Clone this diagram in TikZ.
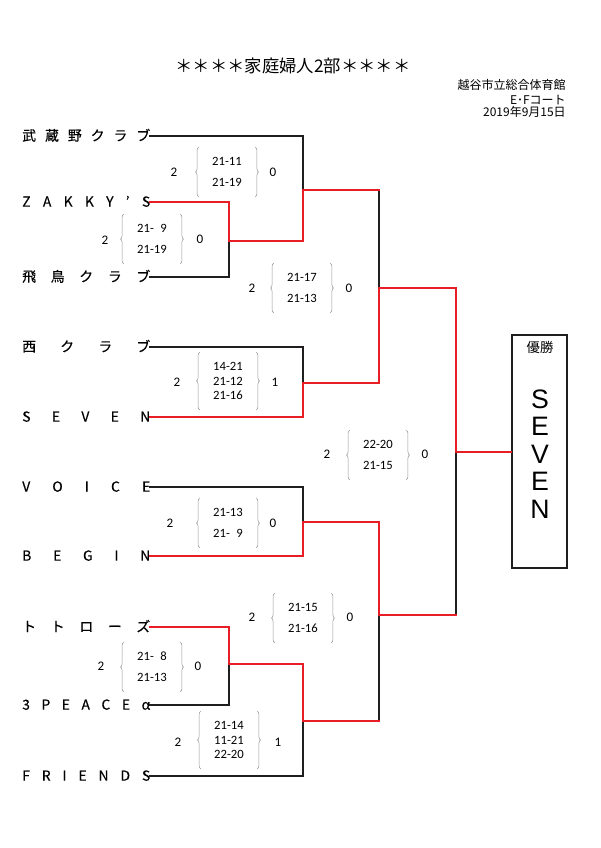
\documentclass[tikz,border=0pt]{standalone}
\usepackage{fontspec}
\setmainfont{Noto Sans CJK JP}
\newfontfamily\teamfont{Noto Sans CJK JP}[FakeBold=0.3]
\newfontfamily\setsfont{Carlito}
\newfontfamily\champfont{Liberation Sans}
\usetikzlibrary{decorations.pathreplacing}
\definecolor{winred}{RGB}{232,30,38}
\definecolor{loseblack}{RGB}{32,30,30}
\definecolor{bracegray}{RGB}{150,150,150}
\tikzset{
  team/.style={anchor=west,inner sep=0pt,text height=8.5pt,text depth=1.5pt,
    font=\teamfont\fontsize{10.4}{12}\selectfont},
  pts/.style={inner sep=0pt,font=\setsfont\fontsize{9.8}{11}\selectfont},
  sets/.style={inner sep=0pt,minimum width=42pt,minimum height=36.75pt,
    align=center,font=\setsfont\fontsize{9.5}{11}\selectfont},
  setsthree/.style={sets,minimum height=42.75pt},
  win/.style={draw=winred,line width=1.7pt,line cap=rect},
  lose/.style={draw=loseblack,line width=1.7pt,line cap=rect},
  setbrace/.style={draw=bracegray,line width=0.4pt,decorate,
    decoration={brace,amplitude=2.5pt}},
}
\newcommand{\spreadname}[1]{\makebox[96pt][s]{#1}}
\begin{document}
\begin{tikzpicture}[x=0.75pt,y=-0.75pt]
  \useasboundingbox (0,0) rectangle (600,848);
  % heading
  \node[font=\fontsize{13}{15}\selectfont] (title) at (293,66) {＊＊＊＊家庭婦人2部＊＊＊＊};
  \node[anchor=east,inner sep=0pt,font=\fontsize{9}{11}\selectfont] (venue) at (566,85) {越谷市立総合体育館};
  \node[anchor=east,inner sep=0pt,font=\fontsize{9}{11}\selectfont] (court) at (566,100) {E･Fコート};
  \node[anchor=east,inner sep=0pt,font=\fontsize{9}{11}\selectfont] (date) at (566,112) {2019年9月15日};
  % teams
  \node[team] (t1) at (22,136) {\spreadname{武\hfil 蔵\hfil 野\hfil ク\hfil ラ\hfil ブ}};
  \node[team] (t2) at (22,202) {\spreadname{Z\hfil A\hfil K\hfil K\hfil Y\hfil ’\hfil S}};
  \node[team] (t3) at (22,277) {\spreadname{飛\hfil 鳥\hfil ク\hfil ラ\hfil ブ}};
  \node[team] (t4) at (22,347) {\spreadname{西\hfil ク\hfil ラ\hfil ブ}};
  \node[team] (t5) at (22,417) {\spreadname{S\hfil E\hfil V\hfil E\hfil N}};
  \node[team] (t6) at (22,487) {\spreadname{V\hfil O\hfil I\hfil C\hfil E}};
  \node[team] (t7) at (22,556) {\spreadname{B\hfil E\hfil G\hfil I\hfil N}};
  \node[team] (t8) at (22,627) {\spreadname{ト\hfil ト\hfil ロ\hfil ー\hfil ズ}};
  \node[team] (t9) at (22,705) {\spreadname{3\hfil P\hfil E\hfil A\hfil C\hfil E\hfil α}};
  \node[team] (t10) at (22,776) {\spreadname{F\hfil R\hfil I\hfil E\hfil N\hfil D\hfil S}};
  % champion
  \node[draw=loseblack,line width=1.5pt,minimum width=41.25pt,minimum height=174.75pt,inner sep=0pt]
    (champ) at (539.5,451.5) {};
  \node[font=\fontsize{10}{12}\selectfont] (champlabel) at (540,347) {優勝};
  \node[align=center,font=\champfont\fontsize{20}{20.6}\selectfont] (champname) at (540,454) {S\\E\\V\\E\\N};
  % junctions
  \coordinate (j1) at (229,241);
  \coordinate (j2) at (303,190);
  \coordinate (j3) at (303,383);
  \coordinate (j4) at (379,288);
  \coordinate (j5) at (303,522);
  \coordinate (j6) at (229,664);
  \coordinate (j7) at (303,721);
  \coordinate (j8) at (379,615);
  \coordinate (j9) at (456,452);
  % bracket lines
  \draw[lose] (t3.east) -| (j1);
  \draw[win] (t2.east) -| (j1);
  \draw[lose] (t1.east) -| (j2);
  \draw[win] (j1) -| (j2);
  \draw[lose] (t4.east) -| (j3);
  \draw[win] (t5.east) -| (j3);
  \draw[lose] (j2 -| j4) -- (j4);
  \draw[win] (j2) -- (j2 -| j4);
  \draw[win] (j3) -| (j4);
  \draw[lose] (t6.east) -| (j5);
  \draw[win] (t7.east) -| (j5);
  \draw[lose] (t9.east) -| (j6);
  \draw[win] (t8.east) -| (j6);
  \draw[lose] (t10.east) -| (j7);
  \draw[win] (j6) -| (j7);
  \draw[lose] (j7 -| j8) -- (j8);
  \draw[win] (j7) -- (j7 -| j8);
  \draw[win] (j5) -| (j8);
  \draw[lose] (j8 -| j9) -- (j9);
  \draw[win] (j8) -- (j8 -| j9);
  \draw[win] (j4) -| (j9);
  \draw[win] (j9) -- (j9 -| champ.west);
  % scores
  \node[pts] (l1) at (174,172) {2};
  \node[sets] (s1) at (227,172) {21-11\\[5pt]21-19};
  \node[pts] (r1) at (273,172) {0};
  \node[pts] (l2) at (105,240) {2};
  \node[sets] (s2) at (152,239) {21-\phantom{1}9\\[5pt]21-19};
  \node[pts] (r2) at (200,239) {0};
  \node[pts] (l3) at (252,288) {2};
  \node[sets] (s3) at (302,288) {21-17\\[5pt]21-13};
  \node[pts] (r3) at (349,288) {0};
  \node[pts] (l4) at (177,382) {2};
  \node[setsthree] (s4) at (228,381) {14-21\\21-12\\21-16};
  \node[pts] (r4) at (275,382) {1};
  \node[pts] (l5) at (327,454) {2};
  \node[sets] (s5) at (378,455) {22-20\\[5pt]21-15};
  \node[pts] (r5) at (425,454) {0};
  \node[pts] (l6) at (170,523) {2};
  \node[sets] (s6) at (228,523) {21-13\\[5pt]21-\phantom{1}9};
  \node[pts] (r6) at (273,523) {0};
  \node[pts] (l7) at (252,617) {2};
  \node[sets] (s7) at (303,618) {21-15\\[5pt]21-16};
  \node[pts] (r7) at (350,617) {0};
  \node[pts] (l8) at (101,666) {2};
  \node[sets] (s8) at (152,667) {21-\phantom{1}8\\[5pt]21-13};
  \node[pts] (r8) at (198,666) {0};
  \node[pts] (l9) at (178,742) {2};
  \node[setsthree] (s9) at (229,740) {21-14\\11-21\\22-20};
  \node[pts] (r9) at (278,742) {1};
  % braces
  \draw[setbrace] (s1.south west) -- (s1.north west);
  \draw[setbrace] (s1.north east) -- (s1.south east);
  \draw[setbrace] (s2.south west) -- (s2.north west);
  \draw[setbrace] (s2.north east) -- (s2.south east);
  \draw[setbrace] (s3.south west) -- (s3.north west);
  \draw[setbrace] (s3.north east) -- (s3.south east);
  \draw[setbrace] (s4.south west) -- (s4.north west);
  \draw[setbrace] (s4.north east) -- (s4.south east);
  \draw[setbrace] (s5.south west) -- (s5.north west);
  \draw[setbrace] (s5.north east) -- (s5.south east);
  \draw[setbrace] (s6.south west) -- (s6.north west);
  \draw[setbrace] (s6.north east) -- (s6.south east);
  \draw[setbrace] (s7.south west) -- (s7.north west);
  \draw[setbrace] (s7.north east) -- (s7.south east);
  \draw[setbrace] (s8.south west) -- (s8.north west);
  \draw[setbrace] (s8.north east) -- (s8.south east);
  \draw[setbrace] (s9.south west) -- (s9.north west);
  \draw[setbrace] (s9.north east) -- (s9.south east);
\end{tikzpicture}
\end{document}
